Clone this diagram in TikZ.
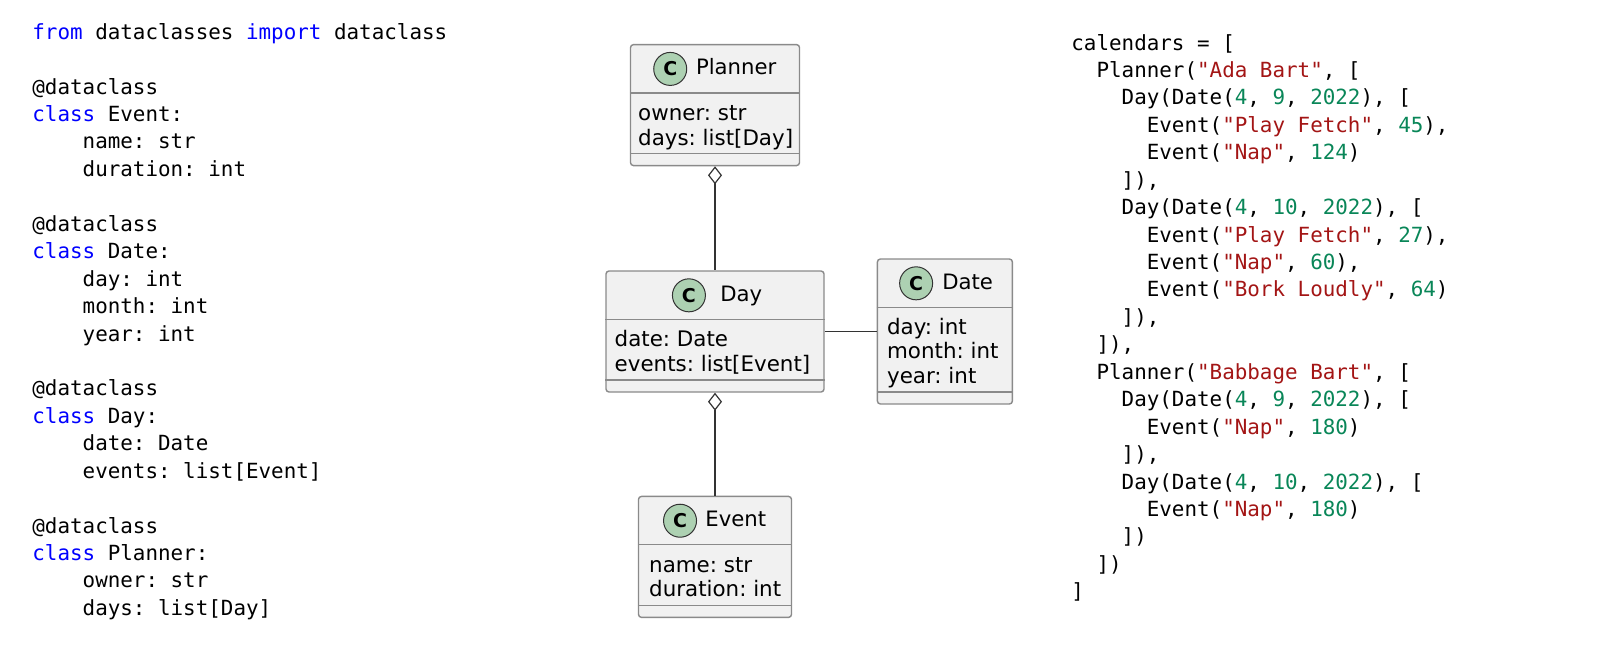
\documentclass[tikz,border=0pt]{standalone}
\usepackage{fontspec}
\usepackage{xcolor}
\usetikzlibrary{positioning,calc,arrows.meta}
\setmainfont{DejaVu Sans}
\newfontfamily\codefont{DejaVu Sans Mono}
\definecolor{classfill}{HTML}{F1F1F1}
\definecolor{classedge}{HTML}{8A8A8A}
\definecolor{iconfill}{HTML}{ADD1B2}
\definecolor{codekw}{HTML}{0000FF}
\definecolor{codestr}{HTML}{A31515}
\definecolor{codenum}{HTML}{098658}
\newcommand{\kwd}[1]{\textcolor{codekw}{#1}}
\newcommand{\strlit}[1]{\textcolor{codestr}{#1}}
\newcommand{\numlit}[1]{\textcolor{codenum}{#1}}

\begin{document}
\begin{tikzpicture}[
    classbox/.style={rectangle, draw=classedge, line width=0.7pt, fill=classfill, rounded corners=1.5pt, inner sep=0pt},
    classrule/.style={draw=classedge, line width=0.7pt},
    classicon/.style={circle, draw=black!80, line width=0.5pt, fill=iconfill, minimum size=16.5pt, inner sep=0pt, font=\fontsize{9.5pt}{9.5pt}\selectfont\bfseries},
    classname/.style={inner sep=0pt, text height=8pt, text depth=2.2pt, font=\fontsize{10.6pt}{12.3pt}\selectfont},
    classattrs/.style={inner sep=0pt, anchor=base west, align=left, font=\fontsize{10.7pt}{12.3pt}\selectfont\frenchspacing},
    codeblock/.style={inner sep=0pt, anchor=base west, align=left, font=\codefont\fontsize{10.44pt}{13.72pt}\selectfont\frenchspacing},
    assoc/.style={draw=black!80, line width=0.6pt},
    aggregation/.style={assoc, {Diamond[open, fill=white, length=9pt, width=7pt]}-}
]
    \useasboundingbox (0,0) rectangle (799pt,322pt);

    \node[classbox, minimum width=109pt, minimum height=60.5pt] (day) at (357.5pt,156.25pt) {};
    \node[classbox, minimum width=84.5pt, minimum height=60.5pt, above=52pt of day] (planner) {};
    \node[classbox, minimum width=76.5pt, minimum height=60.5pt, below=51.5pt of day] (event) {};
    \node[classbox, minimum width=67.5pt, minimum height=72.5pt, right=26pt of day] (date) {};

    \draw[classrule] ($(planner.north west)+(0,-24.5pt)$) -- ($(planner.north east)+(0,-24.5pt)$);
    \draw[classrule] ($(planner.south west)+(0,6.3pt)$) -- ($(planner.south east)+(0,6.3pt)$);
    \draw[classrule] ($(day.north west)+(0,-24.5pt)$) -- ($(day.north east)+(0,-24.5pt)$);
    \draw[classrule] ($(day.south west)+(0,6.3pt)$) -- ($(day.south east)+(0,6.3pt)$);
    \draw[classrule] ($(date.north west)+(0,-24.5pt)$) -- ($(date.north east)+(0,-24.5pt)$);
    \draw[classrule] ($(date.south west)+(0,6.3pt)$) -- ($(date.south east)+(0,6.3pt)$);
    \draw[classrule] ($(event.north west)+(0,-24.5pt)$) -- ($(event.north east)+(0,-24.5pt)$);
    \draw[classrule] ($(event.south west)+(0,6.3pt)$) -- ($(event.south east)+(0,6.3pt)$);

    \node[classicon, below right=6.5pt and 14.2pt of planner.north west] (planner_icon) {C};
    \node[classname, right=4.2pt of planner_icon] (planner_name) {Planner};
    \node[classattrs] (planner_attrs) at ($(planner.south west)+(4pt,10.6pt)$) {owner: str\\days: list[Day]};

    \node[classicon, below right=6.5pt and 35.8pt of day.north west] (day_icon) {C};
    \node[classname, right=7pt of day_icon] (day_name) {Day};
    \node[classattrs] (day_attrs) at ($(day.south west)+(4.5pt,10.6pt)$) {date: Date\\events: list[Event]};

    \node[classicon, below right=6.5pt and 13.7pt of date.north west] (date_icon) {C};
    \node[classname, right=4.4pt of date_icon] (date_name) {Date};
    \node[classattrs] (date_attrs) at ($(date.south west)+(5pt,10.6pt)$) {day: int\\month: int\\year: int};

    \node[classicon, below right=6.5pt and 15.1pt of event.north west] (event_icon) {C};
    \node[classname, right=4pt of event_icon] (event_name) {Event};
    \node[classattrs] (event_attrs) at ($(event.south west)+(5.5pt,10.6pt)$) {name: str\\duration: int};

    \draw[aggregation] (planner.south) -- (day.north);
    \draw[aggregation] (day.south) -- (event.north);
    \draw[assoc] (day.east) -- (date.west);

    \node[codeblock] (dataclass_code) at (16pt,14.3pt) {\kwd{from} dataclasses \kwd{import} dataclass\\
        ~\\
        @dataclass\\
        \kwd{class} Event:\\
        ~~~~name: str\\
        ~~~~duration: int\\
        ~\\
        @dataclass\\
        \kwd{class} Date:\\
        ~~~~day: int\\
        ~~~~month: int\\
        ~~~~year: int\\
        ~\\
        @dataclass\\
        \kwd{class} Day:\\
        ~~~~date: Date\\
        ~~~~events: list[Event]\\
        ~\\
        @dataclass\\
        \kwd{class} Planner:\\
        ~~~~owner: str\\
        ~~~~days: list[Day]};

    \node[codeblock] (calendars_code) at (535.5pt,22.6pt) {calendars = [\\
        ~~Planner(\strlit{"Ada Bart"}, [\\
        ~~~~Day(Date(\numlit{4}, \numlit{9}, \numlit{2022}), [\\
        ~~~~~~Event(\strlit{"Play Fetch"}, \numlit{45}),\\
        ~~~~~~Event(\strlit{"Nap"}, \numlit{124})\\
        ~~~~]),\\
        ~~~~Day(Date(\numlit{4}, \numlit{10}, \numlit{2022}), [\\
        ~~~~~~Event(\strlit{"Play Fetch"}, \numlit{27}),\\
        ~~~~~~Event(\strlit{"Nap"}, \numlit{60}),\\
        ~~~~~~Event(\strlit{"Bork Loudly"}, \numlit{64})\\
        ~~~~]),\\
        ~~]),\\
        ~~Planner(\strlit{"Babbage Bart"}, [\\
        ~~~~Day(Date(\numlit{4}, \numlit{9}, \numlit{2022}), [\\
        ~~~~~~Event(\strlit{"Nap"}, \numlit{180})\\
        ~~~~]),\\
        ~~~~Day(Date(\numlit{4}, \numlit{10}, \numlit{2022}), [\\
        ~~~~~~Event(\strlit{"Nap"}, \numlit{180})\\
        ~~~~])\\
        ~~])\\
        ]};
\end{tikzpicture}
\end{document}
